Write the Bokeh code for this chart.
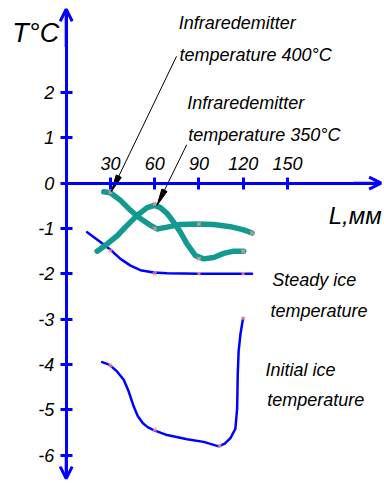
import math
from bokeh.plotting import figure
from bokeh.models import FixedTicker, Arrow, OpenHead, Label
from bokeh.core.properties import value
from bokeh.embed import file_html
from bokeh.resources import INLINE

# ---- data ----
x_ticks = [30, 60, 90, 120, 150]
y_ticks = [-6, -5, -4, -3, -2, -1, 0, 1, 2]
y_tick_labels = ["-6", "-5", "-4", "-3", "-2", "-1", "0", "1", "2"]

l_400 = [25.5, 30, 36.8, 43.6, 50.3, 57.1, 61.6, 68.4, 77.4, 88.8, 100, 111.3, 120.3, 126]
t_400 = [-0.19, -0.21, -0.38, -0.6, -0.78, -0.93, -1.01, -0.97, -0.91, -0.9, -0.91, -0.96, -1.03, -1.1]

l_350 = [21.0, 27.8, 34.6, 41.3, 48.1, 54.9, 59.8, 63.9, 68.4, 72.9, 77.4, 81.9, 87.6, 93.2, 100, 106.8, 113.6, 120.3]
t_350 = [-1.5, -1.34, -1.16, -0.93, -0.71, -0.54, -0.49, -0.54, -0.67, -0.86, -1.08, -1.34, -1.6, -1.67, -1.64, -1.55, -1.5, -1.5]

l_steady = [14.2, 23.2, 30, 36.8, 43.6, 50.3, 59.3, 68.4, 90, 120, 126]
t_steady = [-1.08, -1.3, -1.47, -1.67, -1.82, -1.92, -1.97, -1.99, -2, -2, -2]

l_initial = [24.4, 29.5, 34.6, 39.0, 42.4, 45.8, 48.5, 52.0, 55.5, 59.3, 68.4, 82, 93.2, 103.4, 107.5, 111.5, 114.7, 115.9, 116.3, 116.9, 118.1, 119.9]
t_initial = [-3.95, -4.01, -4.16, -4.34, -4.6, -4.93, -5.14, -5.3, -5.39, -5.45, -5.56, -5.65, -5.71, -5.81, -5.75, -5.62, -5.42, -4.97, -4.23, -3.71, -3.34, -2.98]

mk_steady_l = [30, 60, 90, 120]
mk_steady_t = [-1.49, -2, -2, -2]
mk_400_l = [30, 60, 90, 126]
mk_400_t = [-0.2, -1.0, -0.9, -1.1]
mk_350_l = [60, 90, 120]
mk_350_t = [-0.45, -1.67, -1.5]
mk_init_l = [30, 60, 104, 120]
mk_init_t = [-4.02, -5.44, -5.8, -2.98]

# ---- styling ----
FONT = "Liberation Sans"
BLUE = "#0000ff"
TEAL = "#139a90"
MARK = "#f39a9a"

W, H = 384, 485
XR = (-44.54, 215.8)
YR = (-6.673, 4.033)

p = figure(width=W, height=H, x_range=XR, y_range=YR, x_axis_location="above",
           output_backend="svg", toolbar_location=None, min_border=0)
p.outline_line_color = None
p.grid.visible = False
p.background_fill_color = "white"

for ax in (p.xaxis[0], p.yaxis[0]):
    ax.fixed_location = 0
    ax.axis_line_color = BLUE
    ax.axis_line_width = 3
    ax.major_tick_line_color = BLUE
    ax.major_tick_line_width = 3
    ax.major_tick_in = 6
    ax.major_tick_out = 6
    ax.minor_tick_line_color = None
    ax.major_label_text_font = FONT
    ax.major_label_text_font_style = "italic"
    ax.major_label_text_font_size = "18px"
    ax.major_label_text_color = "black"

p.xaxis.ticker = FixedTicker(ticks=x_ticks)
p.xaxis.bounds = (0, 210)
p.xaxis.major_label_standoff = 7
p.yaxis.ticker = FixedTicker(ticks=y_ticks)
p.yaxis.major_label_overrides = {t: s for t, s in zip(y_ticks, y_tick_labels)}
p.yaxis.bounds = (-6.45, 3.75)
p.yaxis.major_label_standoff = 6

# axis arrow heads
p.add_layout(Arrow(x_start=195, y_start=0, x_end=213.5, y_end=0,
                   line_color=BLUE, line_width=3,
                   end=OpenHead(size=12, line_color=BLUE, line_width=3)))
p.add_layout(Arrow(x_start=0, y_start=3.0, x_end=0, y_end=3.84,
                   line_color=BLUE, line_width=3,
                   end=OpenHead(size=12, line_color=BLUE, line_width=3)))
p.add_layout(Arrow(x_start=0, y_start=-6.0, x_end=0, y_end=-6.52,
                   line_color=BLUE, line_width=3,
                   end=OpenHead(size=12, line_color=BLUE, line_width=3)))

# curves
p.line(l_steady, t_steady, line_color=BLUE, line_width=2.5, line_join="round", line_cap="round")
p.line(l_initial, t_initial, line_color=BLUE, line_width=2.5, line_join="round", line_cap="round")
p.line(l_400, t_400, line_color=TEAL, line_width=5.5, line_join="round", line_cap="round")
p.line(l_350, t_350, line_color=TEAL, line_width=5.5, line_join="round", line_cap="round")

for xs, ys in ((mk_steady_l, mk_steady_t), (mk_400_l, mk_400_t),
               (mk_350_l, mk_350_t), (mk_init_l, mk_init_t)):
    p.scatter(xs, ys, marker="x", size=5, line_color=MARK, line_width=1.5, line_alpha=0.8)

# pointer arrows
sx = W / (XR[1] - XR[0])
sy = H / (YR[1] - YR[0])
ptr_start_l = [74.8, 81.7]
ptr_start_t = [2.8, 0.85]
ptr_tip_l = [30.7, 61.6]
ptr_tip_t = [-0.18, -0.49]
p.segment(ptr_start_l, ptr_start_t, ptr_tip_l, ptr_tip_t, line_color="black", line_width=1)
angs = [math.atan2((y0 - y1) * sy, (x0 - x1) * sx)
        for x0, y0, x1, y1 in zip(ptr_start_l, ptr_start_t, ptr_tip_l, ptr_tip_t)]
p.wedge(x=ptr_tip_l, y=ptr_tip_t, radius=17, radius_units="screen",
        start_angle=[a - 0.17 for a in angs], end_angle=[a + 0.17 for a in angs],
        fill_color="black", line_color="black")

# texts
labels = [
    ("Infraredemitter", 76.3, 3.53, "18px"),
    ("temperature 400°C", 76.8, 2.83, "18px"),
    ("Infraredemitter", 82.0, 1.76, "18px"),
    ("temperature 350°C", 82.7, 1.06, "18px"),
    ("Steady ice", 139.7, -2.14, "18px"),
    ("temperature", 138.5, -2.83, "18px"),
    ("Initial ice", 135.1, -4.12, "18px"),
    ("temperature", 136.3, -4.78, "18px"),
    ("L,мм", 178.0, -0.72, "24px"),
    ("T°C", -36.5, 3.31, "27px"),
]
for txt, x, y, fs in labels:
    p.add_layout(Label(x=x, y=y, text=txt, text_font=FONT, text_font_style="italic",
                       text_font_size=fs, text_baseline="alphabetic", text_color="black"))

open("out.html", "w").write(file_html(p, INLINE))
